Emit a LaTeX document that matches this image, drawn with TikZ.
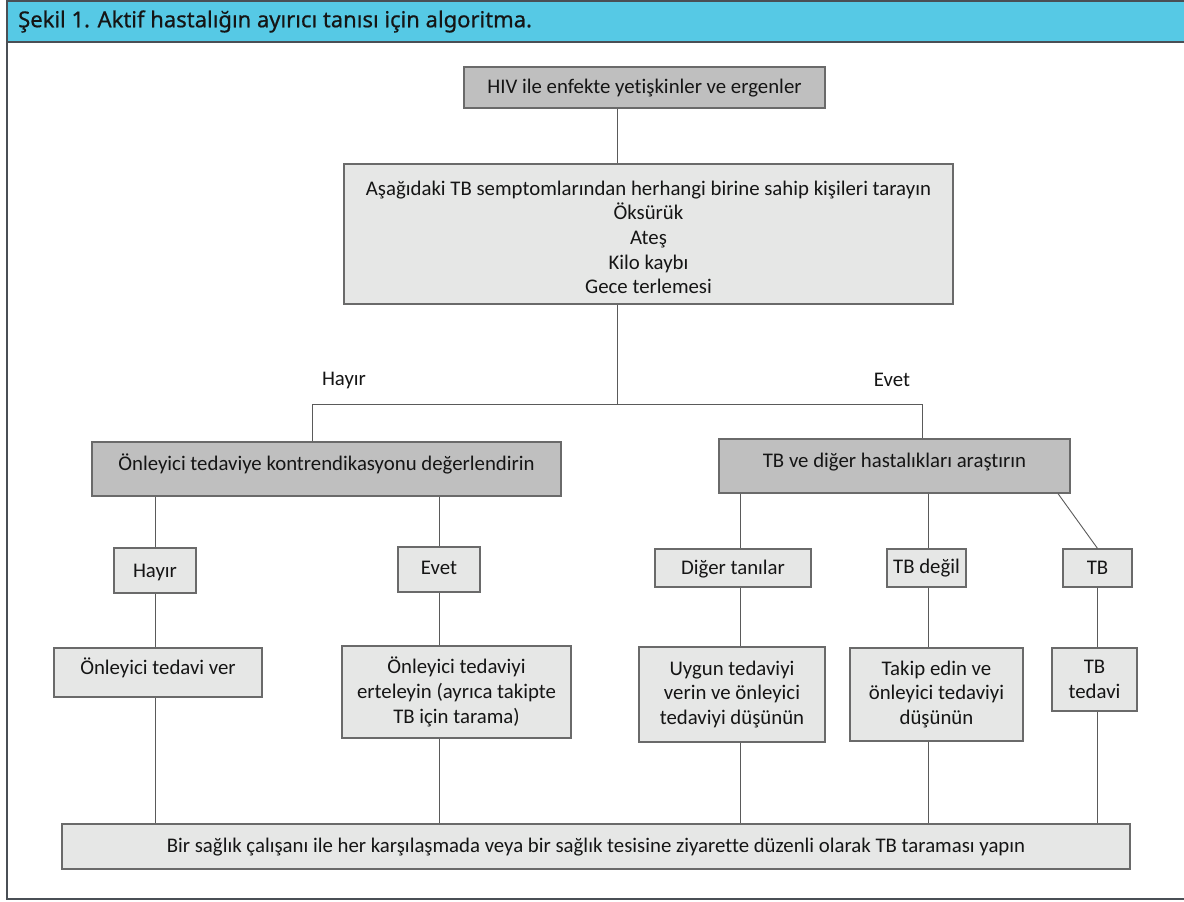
\documentclass[tikz,border=0pt]{standalone}
\usepackage{fontspec}
\setmainfont[Ligatures=NoCommon]{Carlito}
\newfontfamily\headfont[FakeBold=0.6]{Noto Sans}
\definecolor{hdr}{HTML}{56C9E5}
\definecolor{frm}{HTML}{4A4F55}
\definecolor{dk}{HTML}{BFBFBF}
\definecolor{lt}{HTML}{E6E7E6}
\definecolor{bd}{HTML}{6A6A6A}
\definecolor{ln}{HTML}{5A5A5A}
\definecolor{tx}{HTML}{151515}
\begin{document}
\begin{tikzpicture}[x=1pt,y=-1pt,
  box/.style={draw=bd,line width=1.2pt,inner sep=0pt,align=center,text=tx,font=\fontsize{20.8}{24.6}\selectfont},
  dbox/.style={box,fill=dk},
  lbox/.style={box,fill=lt},
  one/.style={text height=14pt,text depth=#1},
  one/.default=2pt,
  conn/.style={draw=ln,line width=0.9pt},
  lab/.style={text=tx,font=\fontsize{20.8}{24}\selectfont,inner sep=0pt}]
\useasboundingbox (0,0) rectangle (1184,902);
\clip (0,0) rectangle (1184,902);
% frame and header
\draw[frm,line width=1.6pt] (7,42) -- (7,899) -- (1195,899);
\fill[hdr] (7,1) rectangle (1195,42);
\draw[frm,line width=2pt] (7,42) -- (7,1) -- (1195,1);
\draw[frm,line width=2pt] (7,42) -- (1195,42);
\node[anchor=west,inner sep=0pt,text=tx,font=\headfont\fontsize{22}{24}\selectfont] (title) at (18,21.5) {Şekil 1. Aktif hastalığın ayırıcı tanısı için algoritma.};
% nodes
\node[dbox,one,minimum width=361,minimum height=41] (hiv) at (644.5,87.5) {HIV ile enfekte yetişkinler ve ergenler};
\node[lbox,minimum width=609,minimum height=140] (sym) at (648.5,234) {\rule{0pt}{21pt}Aşağıdaki TB semptomlarından herhangi birine sahip kişileri tarayın\\Öksürük\\Ateş\\Kilo kaybı\\Gece terlemesi};
\node[lab] (hay) at (344,380) {Hayır};
\node[lab] (evt) at (892,380) {Evet};
\node[dbox,one=12pt,minimum width=469,minimum height=54] (L) at (326.5,469) {Önleyici tedaviye kontrendikasyonu değerlendirin};
\node[dbox,one=12pt,minimum width=351,minimum height=54] (R) at (894.5,466) {TB ve diğer hastalıkları araştırın};
\node[lbox,one=0pt,minimum width=82,minimum height=45] (hb) at (155,570.5) {Hayır};
\node[lbox,one=5pt,minimum width=82,minimum height=45] (eb) at (439,569.5) {Evet};
\node[lbox,one,minimum width=156,minimum height=38] (dt) at (733,568) {Diğer tanılar};
\node[lbox,one=4pt,minimum width=79,minimum height=38] (tbd) at (926.5,568) {TB değil};
\node[lbox,one,minimum width=69,minimum height=38] (tb) at (1097.5,568) {TB};
\node[lbox,one=11pt,minimum width=208,minimum height=49] (tv) at (158,672.5) {Önleyici tedavi ver};
\node[lbox,minimum width=229,minimum height=92] (er) at (456.5,692) {Önleyici tedaviyi\\erteleyin (ayrıca takipte\\TB için tarama)};
\node[lbox,minimum width=186,minimum height=95] (uy) at (732,694.5) {Uygun tedaviyi\\verin ve önleyici\\tedaviyi düşünün};
\node[lbox,minimum width=173,minimum height=93] (tk) at (936.5,694.5) {Takip edin ve\\önleyici tedaviyi\\düşünün};
\node[lbox,minimum width=85,minimum height=63] (tt) at (1094.5,679.5) {TB\\tedavi};
\node[lbox,one,minimum width=1068,minimum height=45] (bot) at (596,846.5) {Bir sağlık çalışanı ile her karşılaşmada veya bir sağlık tesisine ziyarette düzenli olarak TB taraması yapın};
% trunk coordinates
\coordinate (c1) at (617,0);
\coordinate (j) at (617,404);
\coordinate (jl) at (312,404);
\coordinate (jr) at (922,404);
\coordinate (xd) at (740,0);
\coordinate (xt) at (928,0);
\coordinate (xb) at (1097,0);
\coordinate (xg) at (1058,0);
% connectors
\draw[conn] (hiv.south -| c1) -- (sym.north -| c1);
\draw[conn] (sym.south -| j) -- (j);
\draw[conn] (L.north -| jl) -- (jl) -- (jr) -- (R.north -| jr);
\draw[conn] (L.south -| hb.north) -- (hb.north);
\draw[conn] (hb.south) -- (tv.north -| hb.south);
\draw[conn] (tv.south -| hb.south) -- (bot.north -| hb.south);
\draw[conn] (L.south -| eb.north) -- (eb.north);
\draw[conn] (eb.south) -- (er.north -| eb.south);
\draw[conn] (er.south -| eb.south) -- (bot.north -| eb.south);
\draw[conn] (R.south -| xd) -- (dt.north -| xd);
\draw[conn] (dt.south -| xd) -- (uy.north -| xd);
\draw[conn] (uy.south -| xd) -- (bot.north -| xd);
\draw[conn] (R.south -| xt) -- (tbd.north -| xt);
\draw[conn] (tbd.south -| xt) -- (tk.north -| xt);
\draw[conn] (tk.south -| xt) -- (bot.north -| xt);
\draw[conn] (R.south -| xg) -- (tb.north);
\draw[conn] (tb.south -| xb) -- (tt.north -| xb);
\draw[conn] (tt.south -| xb) -- (bot.north -| xb);
\end{tikzpicture}
\end{document}
